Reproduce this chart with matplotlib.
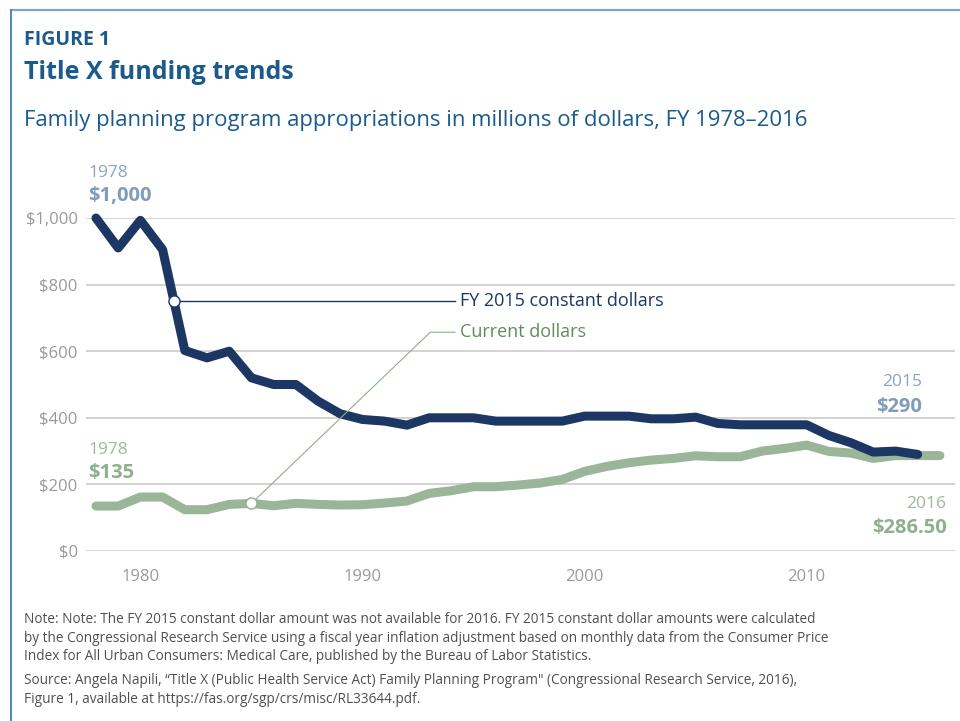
import matplotlib
matplotlib.use("Agg")
import matplotlib.pyplot as plt

plt.rcParams['font.family'] = ['Open Sans', 'DejaVu Sans']

years = list(range(1978, 2017))
constant_years = list(range(1978, 2016))
constant = [1000, 910, 993, 905, 602, 580, 600, 520, 500, 500, 450, 412, 395, 390,
            378, 400, 400, 400, 390, 390, 390, 390, 405, 405, 405, 397, 397, 402,
            383, 379, 379, 379, 379, 347, 325, 297, 300, 290]
current = [135, 135, 162, 162, 124, 124, 140, 143, 136, 143, 140, 138, 139, 144,
           150, 173, 181, 193, 193, 198, 204, 215, 239, 254, 265, 273, 278, 286,
           283, 283, 300, 308, 318, 299, 294, 278, 286.5, 286.5, 286.5]
yticks = [0, 200, 400, 600, 800, 1000]
ytick_labels = ['$0', '$200', '$400', '$600', '$800', '$1,000']
xticks = [1980, 1990, 2000, 2010]
xtick_labels = ['1980', '1990', '2000', '2010']

W, H = 960, 721
NAVY = '#1c3763'
GREEN = '#9ab598'
BLUE = '#1b5a8c'
GRAY = '#9a9a9a'

fig = plt.figure(figsize=(9.6, 7.21), dpi=100)

def fx(px):
    return px / W

def fy(py):
    return 1 - py / H

# frame lines (top and left)
fig.add_artist(plt.Line2D([fx(11), fx(960)], [fy(10), fy(10)], color='#7aa8c3', lw=1.6))
fig.add_artist(plt.Line2D([fx(11), fx(11)], [fy(10), fy(721)], color='#3f7fb5', lw=1.3))

ax = fig.add_axes([fx(86), fy(551), fx(955) - fx(86), fy(218) - fy(551)])
ax.set_xlim(1977.55, 2016.68)
ax.set_ylim(0, 1000)
for s in ax.spines.values():
    s.set_visible(False)
ax.set_yticks(yticks)
ax.set_yticklabels(ytick_labels)
ax.set_xticks(xticks)
ax.set_xticklabels(xtick_labels)
ax.tick_params(axis='both', length=0, labelcolor=GRAY, labelsize=12)
ax.tick_params(axis='y', pad=6)
ax.tick_params(axis='x', pad=13)
ax.grid(axis='y', color='#d3d3d3', lw=1.4)
ax.set_axisbelow(True)

ax.plot(years, current, color=GREEN, lw=6.5, solid_capstyle='round',
        solid_joinstyle='round', clip_on=False, zorder=3)
ax.plot(constant_years, constant, color=NAVY, lw=6.5, solid_capstyle='round',
        solid_joinstyle='round', clip_on=False, zorder=4)

# leader lines and markers
ax.plot([1981.5, 1994.17], [750, 750], color=NAVY, lw=1.0, zorder=5, clip_on=False)
ax.plot([1985, 1993.05, 1994.17], [143, 657, 657], color='#8fae8c', lw=0.8, zorder=5, clip_on=False)
ax.plot([1981.5], [750], marker='o', ms=8, mfc='white', mec=NAVY, mew=1.0, zorder=6, clip_on=False)
ax.plot([1985], [143], marker='o', ms=8, mfc='white', mec='#8fae8c', mew=1.0, zorder=6, clip_on=False)

ax.text(1994.4, 750, 'FY 2015 constant dollars', color=NAVY, fontsize=13, va='center', ha='left')
ax.text(1994.4, 657, 'Current dollars', color='#5f8c5c', fontsize=13, va='center', ha='left')

# end labels
LB = '#8aa4bf'
LG = '#9db89a'
BS = 14.5
ax.text(1977.65, 1122, '1978', color=LB, fontsize=12.5, ha='left', va='baseline')
ax.text(1977.65, 1050, '$1,000', color='#7f9cbb', fontsize=BS, fontweight='bold', ha='left', va='baseline')
ax.text(1977.65, 290, '1978', color=LG, fontsize=12.5, ha='left', va='baseline')
ax.text(1977.65, 218, '$135', color='#8fb08c', fontsize=BS, fontweight='bold', ha='left', va='baseline')
ax.text(2015.2, 495, '2015', color=LB, fontsize=12.5, ha='right', va='baseline')
ax.text(2015.2, 418, '$290', color='#7f9cbb', fontsize=BS, fontweight='bold', ha='right', va='baseline')
ax.text(2016.3, 128, '2016', color=LG, fontsize=12.5, ha='right', va='baseline')
ax.text(2016.3, 53, '$286.50', color='#8fb08c', fontsize=BS, fontweight='bold', ha='right', va='baseline')

# header
fig.text(fx(24), fy(45), 'FIGURE 1', color=BLUE, fontsize=14, fontweight='bold', va='baseline')
fig.text(fx(24), fy(79), 'Title X funding trends', color=BLUE, fontsize=18, fontweight='bold', va='baseline')
fig.text(fx(24), fy(126), 'Family planning program appropriations in millions of dollars, FY 1978\u20132016',
         color=BLUE, fontsize=15.9, va='baseline')

NOTE = '#4f4f4f'
note_lines = [
    'Note: Note: The FY 2015 constant dollar amount was not available for 2016. FY 2015 constant dollar amounts were calculated',
    'by the Congressional Research Service using a fiscal year inflation adjustment based on monthly data from the Consumer Price',
    'Index for All Urban Consumers: Medical Care, published by the Bureau of Labor Statistics.',
]
for i, line in enumerate(note_lines):
    fig.text(fx(24), fy(623 + 18.5 * i), line, color=NOTE, fontsize=9.8, va='baseline')
src_lines = [
    'Source: Angela Napili, \u201cTitle X (Public Health Service Act) Family Planning Program" (Congressional Research Service, 2016),',
    'Figure 1, available at https://fas.org/sgp/crs/misc/RL33644.pdf.',
]
for i, line in enumerate(src_lines):
    fig.text(fx(24), fy(684 + 19 * i), line, color=NOTE, fontsize=9.8, va='baseline')

fig.savefig('out.png', dpi=100, facecolor='white')
